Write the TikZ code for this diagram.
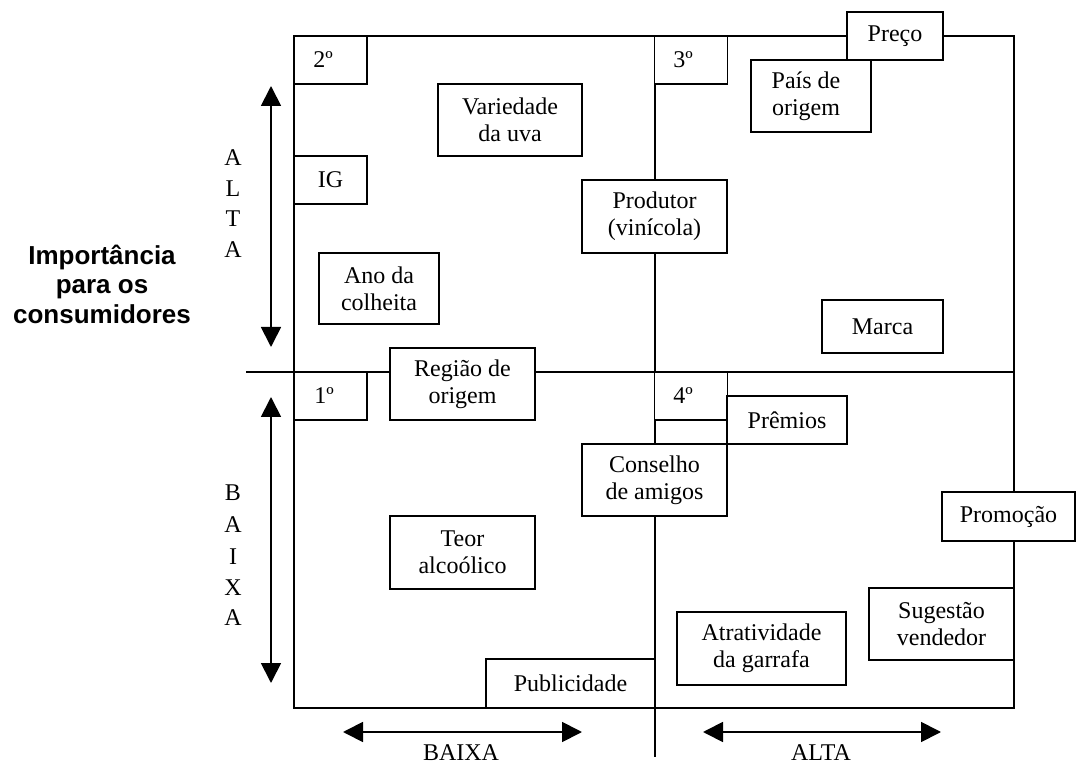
\documentclass[tikz,border=0pt]{standalone}
\usepackage{fontspec}
\setmainfont{Liberation Serif}
\setsansfont{Liberation Sans}
\usetikzlibrary{arrows.meta}
\tikzset{
  frameline/.style={line width=1.8pt},
  bx/.style={draw, line width=1.8pt, fill=white, inner sep=0pt, align=center,
    font=\fontsize{24}{27}\selectfont},
  ordbox/.style={bx, minimum width=73pt, minimum height=48pt},
  letter/.style={inner sep=0pt, font=\fontsize{24}{27}\selectfont},
  axisarrow/.style={line width=1.8pt, {Triangle[width=20pt,length=20pt]}-{Triangle[width=20pt,length=20pt]}},
}
\begin{document}
\begin{tikzpicture}[x=1pt,y=-1pt]
\useasboundingbox (0,0) rectangle (1077,767);
% frame coordinates
\coordinate (tl) at (294,36);
\coordinate (br) at (1014,708);
\coordinate (ml) at (246,372);
\coordinate (mr) at (1014,372);
\coordinate (vt) at (655,36);
\coordinate (vb) at (655,757);
\draw[frameline] (tl) rectangle (br);
\draw[frameline] (ml) -- (mr);
\draw[frameline] (vt) -- (vb);

% ordinal boxes
\node[ordbox] (n2) at (330.5,60) {\hspace*{-15pt}2º};
\node[ordbox] (n3) at (691,60) {\hspace*{-16pt}3º};
\node[ordbox] (n1) at (330.5,396) {\hspace*{-13pt}1º};
\node[ordbox] (n4) at (691,396) {\hspace*{-16pt}4º};

% factor boxes
\node[bx, minimum width=73pt, minimum height=48pt] (ig) at (330.5,180) {IG};
\node[bx, minimum width=144pt, minimum height=72pt] (var) at (510,120) {Variedade\\da uva};
\node[bx, minimum width=96pt, minimum height=48pt] (preco) at (895,36) {Preço};
\node[bx, minimum width=120pt, minimum height=72pt] (pais) at (811,96) {\hspace*{-10pt}País de\\\hspace*{-10pt}origem};
\node[bx, minimum width=145pt, minimum height=73pt] (prod) at (654.5,216.5) {Produtor\\(vinícola)};
\node[bx, minimum width=120pt, minimum height=71pt] (ano) at (379,288.5) {Ano da\\colheita};
\node[bx, minimum width=121pt, minimum height=53pt] (marca) at (882.5,326.5) {Marca};
\node[bx, minimum width=145pt, minimum height=72pt] (regiao) at (462.5,384) {Região de\\origem};
\node[bx, minimum width=120pt, minimum height=48pt] (premios) at (787,420) {Prêmios};
\node[bx, minimum width=145pt, minimum height=72pt] (conselho) at (654.5,480) {Conselho\\de amigos};
\node[bx, minimum width=145pt, minimum height=73pt] (teor) at (462.5,552.5) {Teor\\alcoólico};
\node[bx, minimum width=133pt, minimum height=49pt] (promo) at (1008.5,516.5) {Promoção};
\node[bx, minimum width=145pt, minimum height=72pt] (sug) at (941.5,624) {Sugestão\\vendedor};
\node[bx, minimum width=169pt, minimum height=73pt] (atr) at (761.5,648.5) {Atratividade\\da garrafa};
\node[bx, minimum width=169pt, minimum height=49pt] (pub) at (570.5,683.5) {Publicidade};

% vertical axis arrows
\coordinate (ua1) at (271,86);
\coordinate (ua2) at (271,347);
\coordinate (la1) at (271,397);
\coordinate (la2) at (271,683);
\draw[axisarrow] (ua1) -- (ua2);
\draw[axisarrow] (la1) -- (la2);
% horizontal axis arrows
\coordinate (ha1) at (343,732);
\coordinate (ha2) at (582,732);
\coordinate (hb1) at (703,732);
\coordinate (hb2) at (941,732);
\draw[axisarrow] (ha1) -- (ha2);
\draw[axisarrow] (hb1) -- (hb2);

% vertical letters
\node[letter] (a1) at (233,158) {A};
\node[letter] (a2) at (233,189) {L};
\node[letter] (a3) at (233,219) {T};
\node[letter] (a4) at (233,250) {A};
\node[letter] (b1) at (233,493) {B};
\node[letter] (b2) at (233,525) {A};
\node[letter] (b3) at (233,557) {I};
\node[letter] (b4) at (233,588) {X};
\node[letter] (b5) at (233,618) {A};

% horizontal labels
\node[letter, anchor=base] (baixa) at (461,760) {BAIXA};
\node[letter, anchor=base] (alta) at (821,760) {ALTA};

% left title
\node[inner sep=0pt, align=center, font=\fontsize{26}{29.5}\selectfont\sffamily\bfseries] (imp) at (102,284) {Importância\\para os\\consumidores};
\end{tikzpicture}
\end{document}
